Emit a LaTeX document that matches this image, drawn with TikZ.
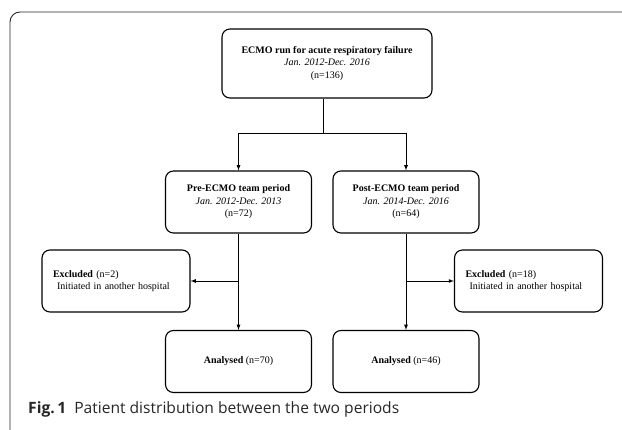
\documentclass[tikz,border=0pt]{standalone}
\usepackage{fontspec}
\setmainfont{Liberation Serif}
\newfontfamily\capfont{Open Sans}
\usetikzlibrary{arrows}

\begin{document}
\begin{tikzpicture}[x=1pt,y=-1pt]
            \tikzstyle{box}=[draw=black,line width=1.1pt,rounded corners=8pt,align=center,inner sep=0pt,minimum width=146pt,minimum height=62pt,font=\fontsize{10}{12.5}\selectfont]
            \tikzstyle{exbox}=[box,align=left,text width=126pt,inner xsep=11pt,minimum width=0pt]
            \tikzstyle{edge}=[draw=black,line width=0.8pt,-latex]
            \tikzstyle{line}=[draw=black,line width=0.8pt,-]
            \tikzstyle{frame}=[draw=black!85,line width=0.9pt,rounded corners=10pt]

            \def\xl{238.5}
            \def\xr{406}

            \useasboundingbox (0,0) rectangle (622,430);
            \path[frame] (622,12) -- (10,12) -- (10,430);

            \node[box,minimum width=210pt,minimum height=69pt] (run) at (327,63.5) {\textbf{ECMO run for acute respiratory failure}\\\textit{Jan. 2012-Dec. 2016}\\(n=136)};
            \node[box] (pre)  at (\xl,202) {\textbf{Pre-ECMO team period}\\\textit{Jan. 2012-Dec. 2013}\\(n=72)};
            \node[box] (post) at (\xr,202) {\textbf{Post-ECMO team period}\\\textit{Jan. 2014-Dec. 2016}\\(n=64)};
            \node[exbox] (exl) at (116,281)   {\textbf{Excluded} (n=2)\\\hspace*{4pt}Initiated in another hospital};
            \node[exbox] (exr) at (528.5,281) {\textbf{Excluded} (n=18)\\\hspace*{4pt}Initiated in another hospital};
            \node[box] (anl) at (\xl,361.5) {\textbf{Analysed} (n=70)};
            \node[box] (anr) at (\xr,361.5) {\textbf{Analysed} (n=46)};

            \node[anchor=base west,inner sep=0pt,text=black!85,font=\capfont\fontsize{15.6}{18}\selectfont] (cap) at (28,414) {\textbf{Fig.\,1}\hspace{8pt}Patient distribution between the two periods};

            \coordinate (split) at (323,133);
            \coordinate (sl) at (\xl,133);
            \coordinate (sr) at (\xr,133);
            \coordinate (jl) at (\xl,281);
            \coordinate (jr) at (\xr,281);

            \path[line] (split |- run.south) -- (split);
            \path[line] (sl) -- (sr);
            \path[edge] (sl) -- (pre.north);
            \path[edge] (sr) -- (post.north);

            \path[edge] (pre.south) -- (anl.north);
            \path[edge] (post.south) -- (anr.north);
            \path[edge] (jl) -- (exl.east);
            \path[edge] (jr) -- (exr.west);
        \end{tikzpicture}
\end{document}
